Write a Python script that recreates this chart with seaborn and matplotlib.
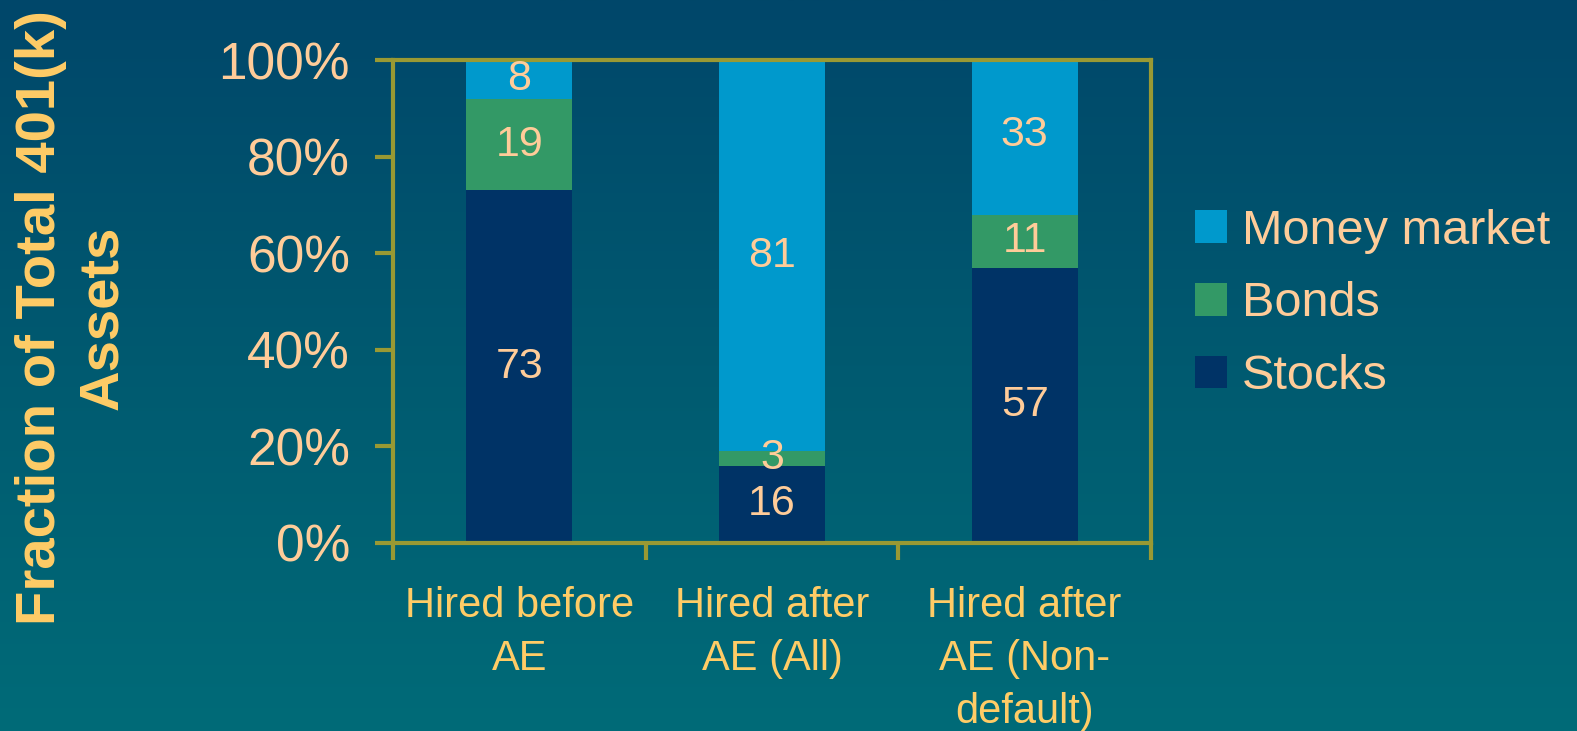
import numpy as np
import pandas as pd
import matplotlib
matplotlib.use("Agg")
import matplotlib.pyplot as plt
import seaborn as sns
from matplotlib.colors import LinearSegmentedColormap
from matplotlib.patches import Patch
from matplotlib.ticker import NullFormatter

# ---------------- data ----------------
categories = ["Hired before\nAE", "Hired after\nAE (All)", "Hired after\nAE (Non-\ndefault)"]
stocks = [73, 16, 57]
bonds = [19, 3, 11]
money_market = [8, 81, 33]
series_names = ["Money market", "Bonds", "Stocks"]
ytick_values = [0, 20, 40, 60, 80, 100]
ytick_labels = ["0%", "20%", "40%", "60%", "80%", "100%"]
y_label = "Fraction of Total 401(k)\nAssets"

# ---------------- style ----------------
C_MONEY = "#0099cc"
C_BONDS = "#339966"
C_STOCKS = "#003366"
OLIVE = "#999933"
PEACH = "#ffcc99"
GOLD = "#ffcc66"

sns.set_theme(style="ticks")
plt.rcParams["font.family"] = ["Liberation Sans", "DejaVu Sans"]

W, H = 1577, 731
fig = plt.figure(figsize=(W / 100, H / 100), dpi=100)

# gradient background
bg = fig.add_axes([0, 0, 1, 1], zorder=-10)
cmap = LinearSegmentedColormap.from_list("bg", ["#00476a", "#005a70", "#006b78"])
grad = np.linspace(0, 1, 256).reshape(-1, 1)
bg.imshow(grad, aspect="auto", cmap=cmap, extent=[0, 1, 0, 1], origin="upper")
bg.set_axis_off()

ax = fig.add_axes([393 / W, 1 - 543 / H, (1151 - 393) / W, (543 - 60) / H])
ax.set_facecolor("none")

df = pd.DataFrame({"cat": categories, "Stocks": stocks, "Bonds": bonds, "Money market": money_market})
df["c1"] = df["Stocks"]
df["c2"] = df["Stocks"] + df["Bonds"]
df["c3"] = df["c2"] + df["Money market"]

for col, color in [("c3", C_MONEY), ("c2", C_BONDS), ("c1", C_STOCKS)]:
    sns.barplot(data=df, x="cat", y=col, color=color, saturation=1, width=0.42,
                errorbar=None, edgecolor="none", linewidth=0, ax=ax)

# value labels
for i in range(len(categories)):
    s, b, m = stocks[i], bonds[i], money_market[i]
    for val, center in [(s, s / 2), (b, s + b / 2), (m, s + b + m / 2)]:
        ax.text(i, center, str(val), ha="center", va="center", fontsize=31, color=PEACH)

ax.set_ylim(0, 100)
ax.set_xlim(-0.5, 2.5)
ax.set_xlabel("")
ax.set_ylabel("")

ax.set_yticks(ytick_values, labels=ytick_labels)
ax.tick_params(axis="y", which="major", length=13, width=3, color=OLIVE, direction="out",
               pad=18, labelsize=37, labelcolor=PEACH)

ax.set_xticks([-0.5, 0.5, 1.5, 2.5])
ax.xaxis.set_major_formatter(NullFormatter())
ax.set_xticks([0, 1, 2], labels=categories, minor=True)
ax.tick_params(axis="x", which="major", length=12, width=3, color=OLIVE, direction="out")
ax.tick_params(axis="x", which="minor", length=0, pad=31, labelsize=30, labelcolor=GOLD)
for lab in ax.get_xticklabels(minor=True):
    lab.set_linespacing(1.42)

for sp in ax.spines.values():
    sp.set_visible(True)
    sp.set_color(OLIVE)
    sp.set_linewidth(3)

# legend
handles = [Patch(facecolor=C_MONEY, edgecolor="none"),
           Patch(facecolor=C_BONDS, edgecolor="none"),
           Patch(facecolor=C_STOCKS, edgecolor="none")]
leg = fig.legend(handles, series_names, loc="center left", bbox_to_anchor=(1195 / W, 1 - 304 / H),
                 frameon=False, fontsize=35, handlelength=0.65, handleheight=0.65,
                 handletextpad=0.32, labelspacing=0.57, borderpad=0, borderaxespad=0)
for t in leg.get_texts():
    t.set_color(PEACH)

# y label
fig.text(72 / W, 1 - 318 / H, y_label, rotation=90, ha="center", va="center",
         multialignment="center", fontsize=40.5, fontweight="bold", color=GOLD, linespacing=1.25)

fig.savefig("out.png", dpi=100)
